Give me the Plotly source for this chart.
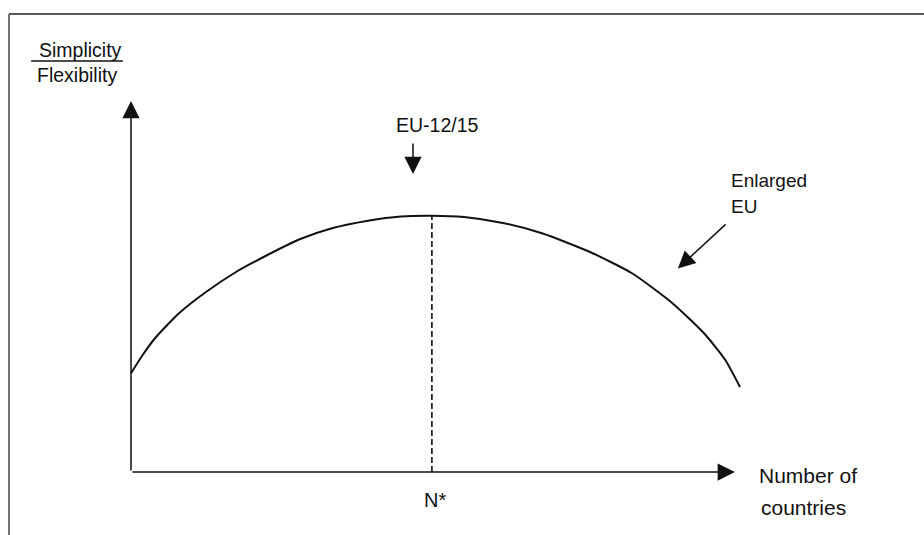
import plotly.graph_objects as go

# curve: simplicity/flexibility trade-off vs number of countries (arbitrary units)
countries = [0, 0.4, 0.8, 1.6, 2.5, 3.5, 4.5, 5.6, 6.7, 7.9, 9.0, 10.0,
             11.1, 12.4, 13.7, 15.3, 16.7, 18.0, 19.1, 19.8, 20.3]
simplicity = [3.95, 4.7, 5.35, 6.35, 7.2, 8.0, 8.65, 9.3, 9.75, 10.05, 10.22, 10.25,
              10.2, 9.96, 9.55, 8.8, 7.95, 6.8, 5.55, 4.5, 3.4]

n_star = 10.03
x_axis_end = 20.13
y_axis_end = 14.84

FONT = "Liberation Sans, Arial, sans-serif"
INK = "#111111"

fig = go.Figure()

fig.add_trace(go.Scatter(
    x=countries, y=simplicity,
    mode="lines",
    line=dict(color=INK, width=2, shape="spline", smoothing=0.6),
    hoverinfo="skip",
))

# dashed line from the peak down to N*
peak = max(simplicity)
fig.add_trace(go.Scatter(
    x=[n_star, n_star], y=[0, peak],
    mode="lines",
    line=dict(color=INK, width=1.6, dash="6px,3px"),
    hoverinfo="skip",
))


def arrow(x0, y0, x1, y1, size=2.3):
    # tail (x0, y0) -> tip (x1, y1)
    fig.add_annotation(
        x=x1, y=y1, ax=x0, ay=y0,
        xref="x", yref="y", axref="x", ayref="y",
        text="", showarrow=True,
        arrowhead=2, arrowsize=size, arrowwidth=1.5,
        arrowcolor=INK, standoff=0, startstandoff=0,
    )


# axes
arrow(0, 0, 0, y_axis_end)
arrow(0, 0, x_axis_end, 0)
# pointers
arrow(9.4, 13.2, 9.4, 11.92)
arrow(19.87, 9.96, 18.23, 8.14)


def label(x, y, text, size, xanchor="center"):
    fig.add_annotation(
        x=x, y=y, xref="x", yref="y", text=text, showarrow=False,
        xanchor=xanchor, yanchor="middle",
        font=dict(family=FONT, size=size, color=INK),
    )


label(-1.7, 16.88, "Simplicity", 19.5)
label(-1.8, 15.88, "Flexibility", 19.5)
fig.add_shape(type="line", xref="x", yref="y",
              x0=-3.33, x1=-0.27, y0=16.44, y1=16.44,
              line=dict(color=INK, width=1.5))

label(10.22, 13.88, "EU-12/15", 19.5)
label(19.93, 11.65, "Enlarged", 19, "left")
label(19.93, 10.64, "EU", 19, "left")
label(n_star + 0.1, -1.12, "N*", 20)
label(20.87, -0.12, "Number of", 21, "left")
label(20.93, -1.4, "countries", 21, "left")

# scanned frame (top and left edges)
fig.add_shape(type="line", xref="paper", yref="paper",
              x0=9 / 924, x1=1, y0=1 - 14 / 535, y1=1 - 14 / 535,
              line=dict(color="#222222", width=1.5))
fig.add_shape(type="line", xref="paper", yref="paper",
              x0=9 / 924, x1=9 / 924, y0=0, y1=1 - 14 / 535,
              line=dict(color="#444444", width=1.5))

fig.update_xaxes(range=[-131 / 30, 793 / 30], visible=False)
fig.update_yaxes(range=[-63 / 25, 472 / 25], visible=False)

fig.update_layout(
    width=924, height=535,
    margin=dict(l=0, r=0, t=0, b=0),
    plot_bgcolor="white", paper_bgcolor="white",
    showlegend=False,
)

fig.write_html(
    "out.html",
    config={"displayModeBar": False},
    post_script="document.body.style.margin='0';",
)
